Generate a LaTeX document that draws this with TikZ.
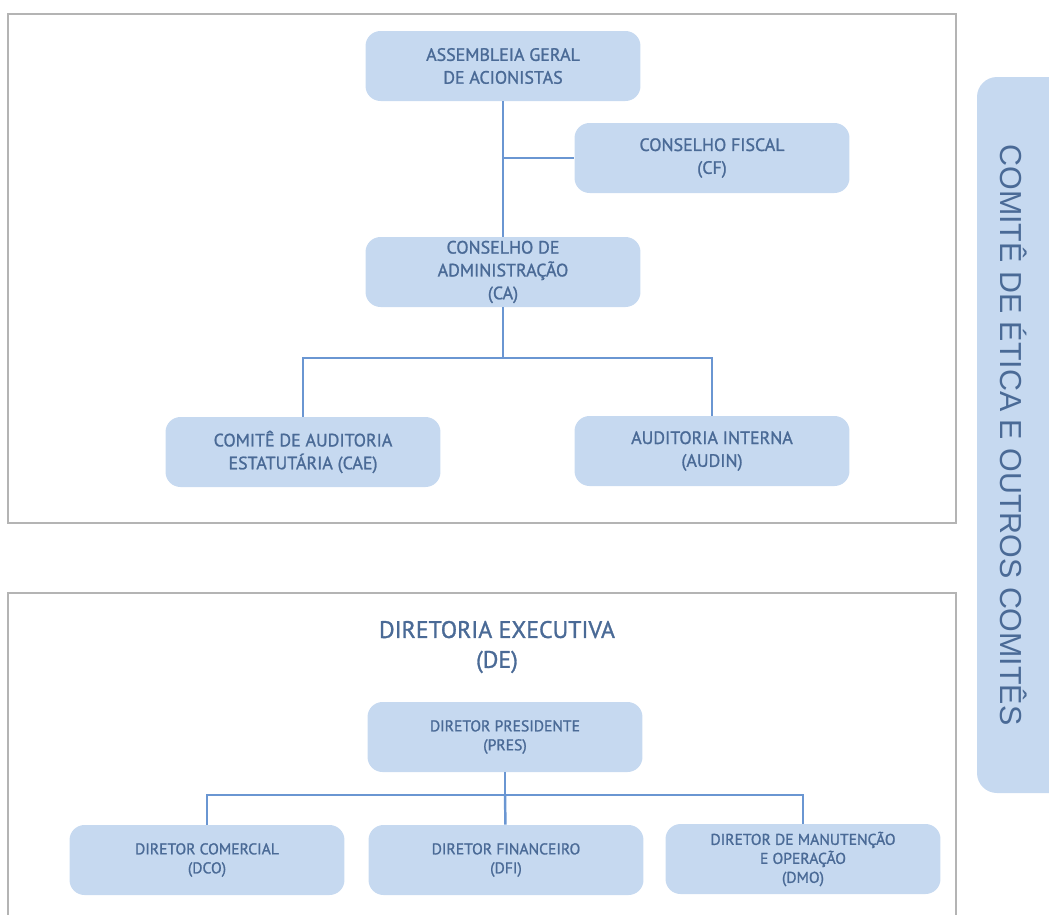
\documentclass[tikz,border=0pt]{standalone}
\usepackage{fontspec}
\setmainfont{PT Sans}
\newfontfamily\boxfont{PT Sans}[FakeBold=1.2]
\newfontfamily\sidefont{Liberation Sans}
\definecolor{boxfill}{HTML}{C6D9F0}
\definecolor{boxtext}{HTML}{4A6A96}
\definecolor{linkblue}{HTML}{6A96D2}
\definecolor{framegray}{HTML}{B4B4B4}
\tikzset{
  orgbox/.style={fill=boxfill, rounded corners=0.3cm, minimum width=5.5cm,
    minimum height=1.4cm, align=center, text=boxtext, inner sep=2pt},
  topbox/.style={orgbox, font=\boxfont\fontsize{10.2}{13}\selectfont},
  lowbox/.style={orgbox, font=\boxfont\fontsize{8.9}{10.8}\selectfont},
  link/.style={draw=linkblue, line width=1.4pt},
  frame/.style={draw=framegray, line width=1.6pt}
}
\begin{document}
\begin{tikzpicture}[x=0.02cm,y=-0.02cm]
  \useasboundingbox (0,0) rectangle (1049,914);
  \begin{scope}
    \clip (0,0) rectangle (1049,914);
    \draw[frame] (8,14) rectangle (956,523);
    \draw[frame] (8,940) -- (8,593) -- (956,593) -- (956,940);
    \fill[boxfill, rounded corners=0.4cm] (977,77) rectangle (1090,793);
  \end{scope}
  \node[rotate=-90, text=boxtext, font=\sidefont\fontsize{17.3}{20}\selectfont] (cte) at (1014,435) {COMITÊ DE ÉTICA E OUTROS COMITÊS};

  \node[topbox] (aga) at (503,66) {ASSEMBLEIA GERAL\\DE ACIONISTAS};
  \node[topbox] (cf) at (712,158) {CONSELHO FISCAL\\(CF)};
  \node[topbox] (ca) at (503,272) {CONSELHO DE\\ADMINISTRAÇÃO\\(CA)};
  \node[topbox] (cae) at (303,452) {COMITÊ DE AUDITORIA\\ESTATUTÁRIA (CAE)};
  \node[topbox] (audin) at (712,451) {AUDITORIA INTERNA\\(AUDIN)};
  \coordinate (caj) at (503,358);
  \draw[link] (aga) -- (ca);
  \draw[link] (aga |- cf) -- (cf);
  \draw[link] (ca) -- (caj);
  \draw[link] (cae) |- (caj) -| (audin);

  \node[text=boxtext, align=center, font=\boxfont\fontsize{13.6}{17}\selectfont] (de) at (497,647) {DIRETORIA EXECUTIVA\\(DE)};
  \node[lowbox] (pres) at (505,737) {DIRETOR PRESIDENTE\\(PRES)};
  \node[lowbox] (dco) at (207,860) {DIRETOR COMERCIAL\\(DCO)};
  \node[lowbox] (dfi) at (506,860) {DIRETOR FINANCEIRO\\(DFI)};
  \node[lowbox] (dmo) at (803,859) {DIRETOR DE MANUTENÇÃO\\E OPERAÇÃO\\(DMO)};
  \coordinate (dej) at (505,795);
  \draw[link] (pres) -- (dej);
  \draw[link] (dco) |- (dej) -| (dmo);
  \draw[link] (dfi) -- (dej);
\end{tikzpicture}
\end{document}
